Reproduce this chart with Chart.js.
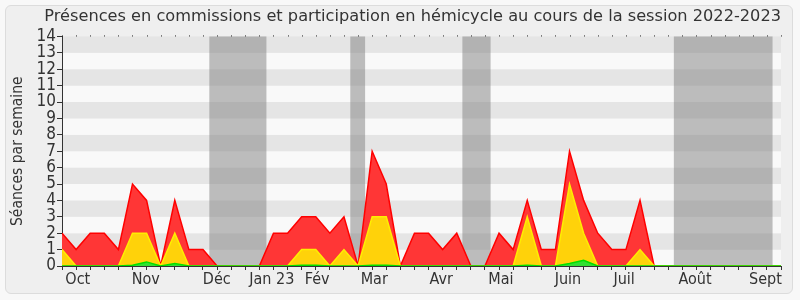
<!DOCTYPE html>
<html>
<head>
<meta charset="utf-8">
<script src="https://cdn.jsdelivr.net/npm/chart.js@4.4.0/dist/chart.umd.min.js"></script>
<style>
  body { margin: 0; background: #f8f8f8; }
  #wrap { position: relative; width: 800px; height: 300px; }
  #card { position: absolute; left: 5px; top: 5px; width: 786px; height: 287px;
          background: #efefef; border: 1px solid #dcdcdc; border-radius: 6px; }
  canvas { position: absolute; left: 0; top: 0; }
</style>
</head>
<body>
<div id="wrap">
  <div id="card"></div>
  <canvas id="chart" width="800" height="300"></canvas>
</div>
<script>
// one value per week of the session (52 weeks)
const totalSeances = [2, 1, 2, 2, 1, 5, 4, 0, 4, 1, 1, 0, 0, 0, 0, 2, 2, 3, 3, 2,
  3, 0, 7, 5, 0, 2, 2, 1, 2, 0, 0, 2, 1, 4, 1, 1, 7, 4, 2, 1,
  1, 4, 0, 0, 0, 0, 0, 0, 0, 0, 0, 0];
const hemicycle = [1, 0, 0, 0, 0, 2, 2, 0, 2, 0, 0, 0, 0, 0, 0, 0, 0, 1, 1, 0,
  1, 0, 3, 3, 0, 0, 0, 0, 0, 0, 0, 0, 0, 3, 0, 0, 5, 2, 0, 0,
  0, 1, 0, 0, 0, 0, 0, 0, 0, 0, 0, 0];
const interventions = [0, 0, 0, 0, 0, 0.05, 0.25, 0, 0.15, 0, 0, 0, 0, 0, 0, 0, 0, 0.05, 0.05, 0,
  0, 0, 0.05, 0.05, 0, 0, 0, 0, 0, 0, 0, 0, 0, 0.05, 0, 0, 0.15, 0.35, 0, 0,
  0, 0, 0, 0, 0, 0, 0, 0, 0, 0, 0, 0];

const monthLabels = ['Oct', 'Nov', 'Déc', 'Jan 23', 'Fév', 'Mar', 'Avr', 'Mai', 'Juin', 'Juil', 'Août', 'Sept'];
const monthPos = [1.12, 5.94, 10.98, 14.88, 18.1, 22.15, 26.9, 31.13, 35.89, 39.87, 44.9, 49.9];

// vacances parlementaires (in weeks)
const vacStart = [10.45, 20.45, 28.4, 43.4];
const vacEnd = [14.5, 21.5, 30.4, 50.4];

const FONT = "'DejaVu Sans Condensed', 'DejaVu Sans', sans-serif";
const toPts = arr => arr.map((v, i) => ({x: i, y: v}));

const background = {
  id: 'background',
  beforeDraw(chart) {
    const {ctx, chartArea: a, scales: {x, y}} = chart;
    ctx.save();
    for (let v = 0; v < 14; v++) {
      ctx.fillStyle = v % 2 ? '#e5e5e5' : '#f9f9f9';
      const top = y.getPixelForValue(v + 1), bot = y.getPixelForValue(v);
      ctx.fillRect(a.left, top, a.right - a.left, bot - top);
    }
    ctx.fillStyle = 'rgba(128,128,128,0.5)';
    vacStart.forEach((s, i) => {
      const l = x.getPixelForValue(s), r = x.getPixelForValue(vacEnd[i]);
      ctx.fillRect(l, a.top, r - l, a.bottom - a.top);
    });
    ctx.restore();
  },
  afterDraw(chart) {
    const {ctx, chartArea: a, scales: {x}} = chart;
    ctx.save();
    ctx.fillStyle = '#222';
    x.ticks.forEach(t => {
      if (Number.isInteger(t.value)) ctx.fillRect(Math.round(x.getPixelForValue(t.value)), a.top - 1, 1, 1);
    });
    ctx.restore();
  }
};

new Chart(document.getElementById('chart'), {
  type: 'line',
  data: {
    datasets: [
      {label: 'Interventions', data: toPts(interventions), fill: 'origin',
        backgroundColor: '#33e033', borderColor: '#00e000', borderWidth: 1.5},
      {label: 'Hémicycle', data: toPts(hemicycle), fill: 'origin',
        backgroundColor: '#ffd20a', borderColor: '#ffee00', borderWidth: 1.5},
      {label: 'Commissions', data: toPts(totalSeances), fill: 'origin',
        backgroundColor: '#ff3636', borderColor: '#ff0000', borderWidth: 1.5}
    ]
  },
  options: {
    responsive: false,
    animation: false,
    devicePixelRatio: 1,
    elements: {point: {radius: 0}, line: {tension: 0}},
    layout: {padding: {left: 0, right: 19, top: 0, bottom: 0}},
    plugins: {
      legend: {display: false},
      tooltip: {enabled: false},
      title: {
        display: true,
        align: 'end',
        text: 'Présences en commissions et participation en hémicycle au cours de la session 2022-2023',
        color: '#333',
        font: {family: "'DejaVu Sans', sans-serif", size: 16.2, weight: 'normal'},
        padding: {top: 7, bottom: 10}
      }
    },
    scales: {
      x: {
        type: 'linear',
        min: 0,
        max: 51,
        z: 1,
        afterFit(s) { s.height = 34; },
        afterBuildTicks(s) {
          const vals = [];
          for (let i = 0; i <= 51; i++) vals.push(i);
          monthPos.forEach(p => { if (!vals.includes(p)) vals.push(p); });
          vals.sort((a, b) => a - b);
          s.ticks = vals.map(v => ({value: v}));
        },
        grid: {
          drawOnChartArea: false,
          tickLength: 4,
          tickColor: c => Number.isInteger(c.tick.value) ? '#333' : 'rgba(0,0,0,0)'
        },
        border: {color: '#333'},
        ticks: {
          autoSkip: false,
          maxRotation: 0,
          padding: 0,
          color: '#333',
          font: {family: FONT, size: 16},
          callback: v => {
            const i = monthPos.indexOf(v);
            return i >= 0 ? monthLabels[i] : '';
          }
        }
      },
      y: {
        min: 0,
        max: 14,
        afterFit(s) { s.width = 62; },
        grid: {drawOnChartArea: false, tickLength: 5, tickColor: '#333'},
        border: {color: '#333'},
        ticks: {stepSize: 1, autoSkip: false, padding: 1, color: '#333', font: {family: FONT, size: 17}},
        title: {
          display: true,
          text: 'Séances par semaine',
          color: '#333',
          font: {family: FONT, size: 15.5},
          padding: {top: 9, bottom: 0}
        }
      }
    }
  },
  plugins: [background]
});
</script>
</body>
</html>
